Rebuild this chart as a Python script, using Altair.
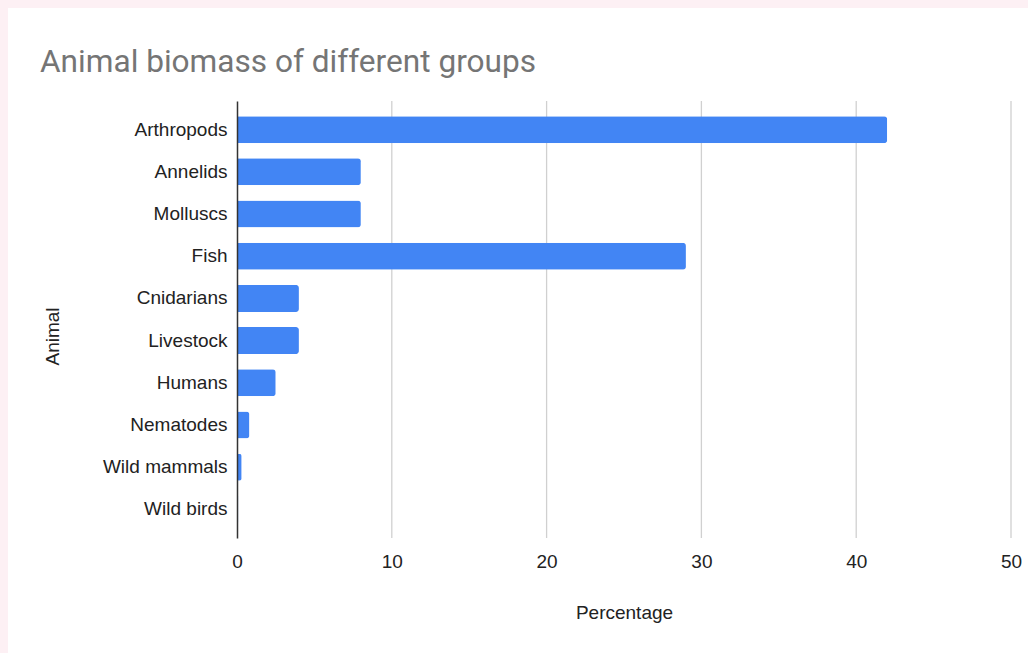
import altair as alt
import pandas as pd

animals = ["Arthropods", "Annelids", "Molluscs", "Fish", "Cnidarians",
           "Livestock", "Humans", "Nematodes", "Wild mammals", "Wild birds"]
percentages = [42, 8, 8, 29, 4, 4, 2.5, 0.8, 0.3, 0.08]
grid_values = [10, 20, 30, 40, 50]
tick_values = [0, 10, 20, 30, 40, 50]
title_text = ["Animal biomass of different groups"]

df = pd.DataFrame({"Animal": animals, "Percentage": percentages})
grid_df = pd.DataFrame({"v": grid_values})

W, H = 774, 437
PAD = {"left": 237, "top": 101, "right": 17, "bottom": 115}
FONT = "Liberation Sans"
TXT = "#222222"

card = alt.Chart(pd.DataFrame({"a": [0]})).mark_rect(color="white", clip=False).encode(
    x=alt.value(8 - PAD["left"]),
    x2=alt.value(1028 - PAD["left"] + 5),
    y=alt.value(8 - PAD["top"]),
    y2=alt.value(653 - PAD["top"] + 5),
)

title = alt.Chart(pd.DataFrame({"t": title_text})).mark_text(
    align="left", baseline="alphabetic", font="Roboto", fontSize=31.6,
    color="#757575", clip=False,
).encode(
    text="t:N",
    x=alt.value(40 - PAD["left"]),
    y=alt.value(72 - PAD["top"]),
)

xscale = alt.Scale(domain=[0, 50], nice=False)
xaxis = alt.Axis(values=tick_values, grid=False, domain=False,
                 ticks=False, labelPadding=14, labelFlush=False,
                 title="Percentage",
                 titlePadding=32, labelFontSize=19, titleFontSize=19,
                 labelFont=FONT, titleFont=FONT,
                 labelColor=TXT, titleColor=TXT,
                 titleFontWeight="normal", zindex=1)

grid = alt.Chart(grid_df).mark_rule(color="#d0d0d0", strokeWidth=1.3).encode(
    x=alt.X("v:Q", scale=xscale, axis=xaxis, title="Percentage"),
)

bars = alt.Chart(df).mark_bar(color="#4285f4", cornerRadiusTopRight=3,
                              cornerRadiusBottomRight=3).encode(
    x=alt.X("Percentage:Q", scale=xscale, axis=xaxis),
    y=alt.Y("Animal:N", sort=animals,
            scale=alt.Scale(paddingInner=0.36, paddingOuter=0.36),
            axis=alt.Axis(domain=True, domainColor="#333333", domainWidth=1.5,
                          ticks=False, labelPadding=10, title="Animal",
                          titlePadding=40, titleY=235,
                          labelFontSize=19, titleFontSize=19,
                          labelFont=FONT, titleFont=FONT,
                          labelColor=TXT, titleColor=TXT,
                          titleFontWeight="normal", zindex=1)),
)

chart = alt.layer(card, grid, bars, title).properties(
    width=W, height=H,
    padding=PAD,
    autosize=alt.AutoSizeParams(type="none"),
    background="#fdf0f4",
).configure_view(stroke=None)

chart.save("out.html", embed_options={"renderer": "svg", "actions": False})
